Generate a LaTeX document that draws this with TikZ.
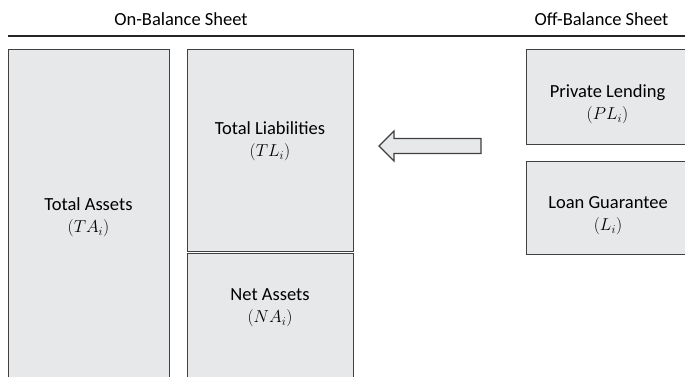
\documentclass[tikz,border=0pt]{standalone}
\usepackage{fontspec}
\setmainfont{Carlito}
\definecolor{boxfill}{RGB}{231,232,234}
\definecolor{boxline}{RGB}{64,64,64}
\definecolor{ruleline}{RGB}{38,38,38}
\tikzset{
  sheetbox/.style={draw=boxline, fill=boxfill, line width=1.3pt, rectangle, inner sep=0pt},
  boxtext/.style={align=center, inner sep=0pt, font=\fontsize{18.5}{22.5}\selectfont},
  headtext/.style={inner sep=0pt, anchor=base, font=\fontsize{18.5}{22.5}\selectfont},
  blockarrow/.style={draw=boxline, fill=boxfill, line width=1.1pt, line join=miter}
}
\begin{document}
\begin{tikzpicture}[x=1pt, y=-1pt]
  \useasboundingbox (0,0) rectangle (685,376);
  \clip (0,0) rectangle (685,376);

  % column headings and rule
  \node[headtext] (onhead) at (181,25) {On-Balance Sheet};
  \node[headtext] (offhead) at (601.5,25) {Off-Balance Sheet};
  \coordinate (ruleL) at (8,36);
  \coordinate (ruleR) at (690,36);
  \draw[ruleline, line width=1.8pt] (ruleL) -- (ruleR);

  % on-balance boxes
  \node[sheetbox, minimum width=161pt, minimum height=340pt, anchor=north west] (ta) at (8,49) {};
  \node[sheetbox, minimum width=166pt, minimum height=202pt, anchor=north west] (tl) at (187,49) {};
  \node[sheetbox, minimum width=166pt, minimum height=140pt, anchor=north west] (na) at (187,253) {};

  % off-balance boxes
  \node[sheetbox, minimum width=170pt, minimum height=95pt, anchor=north west] (pl) at (526,49) {};
  \node[sheetbox, minimum width=170pt, minimum height=93pt, anchor=north west] (lg) at (526,161) {};

  % labels
  \node[boxtext] (tatext) at (88.5,217) {Total Assets\\$(TA_i)$};
  \node[boxtext] (tltext) at (270,141) {Total Liabilities\\$(TL_i)$};
  \node[boxtext] (natext) at (270,307.5) {Net Assets\\$(NA_i)$};
  \node[boxtext] (pltext) at (607.5,104) {Private Lending\\$(PL_i)$};
  \node[boxtext] (lgtext) at (608,215.5) {Loan Guarantee\\$(L_i)$};

  % block arrow from the off-balance side toward the liabilities
  \draw[blockarrow] (379,146) -- (394,131) -- (394,138.5) -- (481,138.5)
    -- (481,153.5) -- (394,153.5) -- (394,161) -- cycle;
\end{tikzpicture}
\end{document}
